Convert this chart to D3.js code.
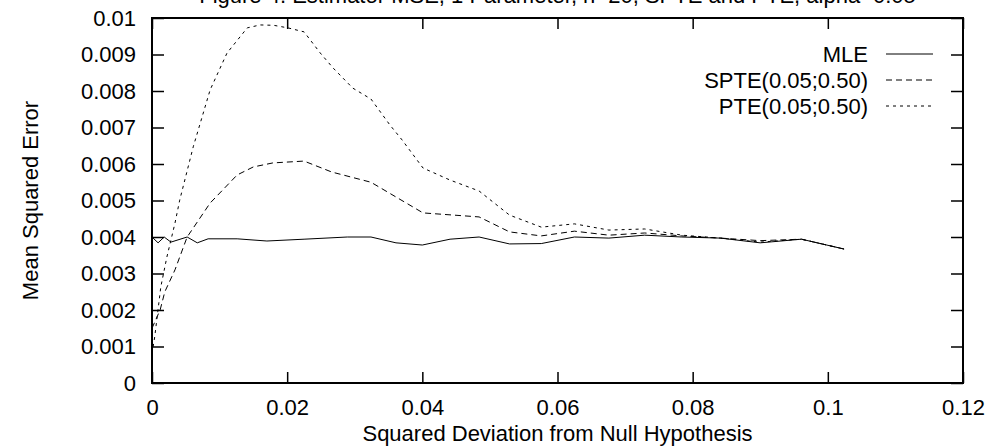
<!DOCTYPE html>
<html>
<head>
<meta charset="utf-8">
<script src="https://cdn.jsdelivr.net/npm/d3@7"></script>
<style>
  body { margin: 0; background: #fff; }
  svg { display: block; font-family: "Liberation Sans", Arial, sans-serif; }
</style>
</head>
<body>
<div id="chart"></div>
<script>
// data
var mleX = [0, 0.0009, 0.0018, 0.0028, 0.0052, 0.0067, 0.0083, 0.0126, 0.017, 0.0225, 0.0289, 0.0324, 0.0361, 0.04, 0.0441, 0.0484, 0.0529, 0.0576, 0.0625, 0.0676, 0.0729, 0.0784, 0.0841, 0.09, 0.0961, 0.1024]
var mleY = [0.0040, 0.00384, 0.0040, 0.00386, 0.0040, 0.00384, 0.00395, 0.00395, 0.00389, 0.00394, 0.0040, 0.0040, 0.00384, 0.00378, 0.00394, 0.0040, 0.00381, 0.00382, 0.0040, 0.00397, 0.00405, 0.0040, 0.00397, 0.00384, 0.00394, 0.00367]

var spteX = [0, 0.0012, 0.0019, 0.0034, 0.0052, 0.0086, 0.0126, 0.015, 0.0179, 0.0225, 0.0266, 0.0324, 0.0401, 0.0484, 0.0529, 0.0576, 0.0625, 0.0676, 0.0729, 0.0784, 0.0841, 0.09, 0.0961, 0.1024]
var spteY = [0.0015, 0.0020, 0.0025, 0.0031, 0.0040, 0.00493, 0.0057, 0.00592, 0.00603, 0.00608, 0.00578, 0.0055, 0.00466, 0.00455, 0.00414, 0.00403, 0.00416, 0.00405, 0.00411, 0.00403, 0.00397, 0.0039, 0.00394, 0.00367]

var pteX = [0, 0.0004, 0.0013, 0.0022, 0.0034, 0.0041, 0.0061, 0.0086, 0.0111, 0.0141, 0.016, 0.018, 0.0201, 0.0225, 0.0249, 0.0268, 0.0297, 0.0324, 0.0352, 0.037, 0.0401, 0.0441, 0.0484, 0.0529, 0.0576, 0.0625, 0.0676, 0.0729, 0.0784, 0.0841, 0.09, 0.0961, 0.1024]
var pteY = [0.0008, 0.00126, 0.00263, 0.00345, 0.00438, 0.00501, 0.00647, 0.00803, 0.00904, 0.00973, 0.00981, 0.0098, 0.00973, 0.00962, 0.00904, 0.00863, 0.00808, 0.00778, 0.00707, 0.00666, 0.00589, 0.00556, 0.00526, 0.0046, 0.00427, 0.00436, 0.00419, 0.00422, 0.00405, 0.00397, 0.00386, 0.00394, 0.00367]

var xTicks = [0, 0.02, 0.04, 0.06, 0.08, 0.1, 0.12]
var yTicks = [0, 0.001, 0.002, 0.003, 0.004, 0.005, 0.006, 0.007, 0.008, 0.009, 0.01]
var seriesNames = ['MLE', 'SPTE(0.05;0.50)', 'PTE(0.05;0.50)']
var dashes = [null, '6,4', '3,4']

var width = 987, height = 447
var pLeft = 152, pRight = 963, pTop = 18, pBottom = 383
var fs = '22px'

var svg = d3.select('#chart').append('svg')
    .attr('width', width).attr('height', height)

var x = d3.scaleLinear().domain([0, 0.12]).range([pLeft, pRight])
var y = d3.scaleLinear().domain([0, 0.01]).range([pBottom, pTop])

// title, mostly cut off at the top edge
svg.append('text')
    .attr('x', (pLeft + pRight) / 2).attr('y', 3)
    .attr('text-anchor', 'middle')
    .style('font-size', fs)
    .text('Figure 4. Estimator MSE, 1 Parameter, n=20, SPTE and PTE, alpha=0.05')

var fmt = function(d){ return d3.format('')(+d.toPrecision(6)) }

// axes with inward ticks, mirrored
var axB = d3.axisBottom(x).tickValues(xTicks).tickSize(-11).tickPadding(16).tickFormat(fmt)
var axT = d3.axisTop(x).tickValues(xTicks).tickSize(-11).tickFormat('')
var axL = d3.axisLeft(y).tickValues(yTicks).tickSize(-12).tickPadding(16).tickFormat(fmt)
var axR = d3.axisRight(y).tickValues(yTicks).tickSize(-12).tickFormat('')

function styleAxis(g){
  g.select('.domain').remove()
  g.selectAll('.tick line').attr('stroke', '#000').attr('stroke-width', 1.5)
  g.selectAll('.tick text').attr('fill', '#000').style('font-size', fs)
    .style('font-family', '"Liberation Sans", Arial, sans-serif')
}
svg.append('g').attr('transform', 'translate(0,' + pBottom + ')').call(axB).call(styleAxis)
svg.append('g').attr('transform', 'translate(0,' + pTop + ')').call(axT).call(styleAxis)
svg.append('g').attr('transform', 'translate(' + pLeft + ',0)').call(axL).call(styleAxis)
svg.append('g').attr('transform', 'translate(' + pRight + ',0)').call(axR).call(styleAxis)

svg.append('rect')
    .attr('x', pLeft).attr('y', pTop)
    .attr('width', pRight - pLeft).attr('height', pBottom - pTop)
    .attr('fill', 'none').attr('stroke', '#000').attr('stroke-width', 2)

// axis titles
svg.append('text')
    .attr('x', (pLeft + pRight) / 2).attr('y', 441)
    .attr('text-anchor', 'middle').style('font-size', fs)
    .text('Squared Deviation from Null Hypothesis')
svg.append('text')
    .attr('transform', 'translate(38,' + (pTop + pBottom) / 2 + ') rotate(-90)')
    .attr('text-anchor', 'middle').style('font-size', fs)
    .text('Mean Squared Error')

// lines
var series = [
  {xs: mleX, ys: mleY},
  {xs: spteX, ys: spteY},
  {xs: pteX, ys: pteY}
]
var line = d3.line()
    .x(function(d){ return x(d[0]) })
    .y(function(d){ return y(d[1]) })

series.forEach(function(s, i){
  var pts = s.xs.map(function(v, j){ return [v, s.ys[j]] })
  svg.append('path')
      .datum(pts)
      .attr('d', line)
      .attr('fill', 'none')
      .attr('stroke', '#000')
      .attr('stroke-width', 1)
      .attr('stroke-dasharray', dashes[i])
})

// legend
var legend = svg.append('g')
seriesNames.forEach(function(name, i){
  var ly = 54 + i * 26
  legend.append('text')
      .attr('x', 868).attr('y', ly + 8)
      .attr('text-anchor', 'end').style('font-size', fs)
      .text(name)
  legend.append('line')
      .attr('x1', 886).attr('x2', 933)
      .attr('y1', ly).attr('y2', ly)
      .attr('stroke', '#000').attr('stroke-width', 1)
      .attr('stroke-dasharray', dashes[i])
})
</script>
</body>
</html>
